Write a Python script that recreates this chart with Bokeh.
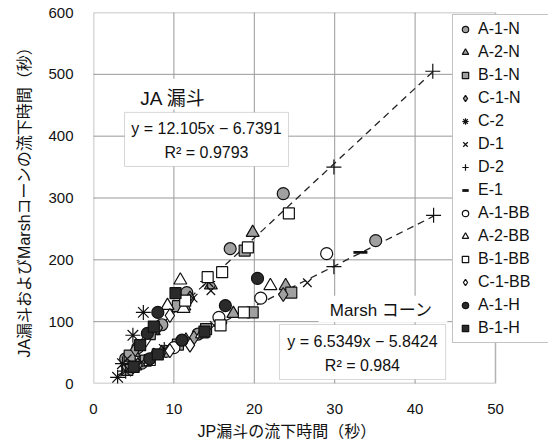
from bokeh.plotting import figure
from bokeh.models import Legend, LegendItem, Label, BoxAnnotation, FixedTicker, Range1d, Title
from bokeh.embed import file_html
from bokeh.resources import INLINE

# ---------------- data ----------------
series_names = ["A-1-N", "A-2-N", "B-1-N", "C-1-N", "C-2", "D-1", "D-2", "E-1",
                "A-1-BB", "A-2-BB", "B-1-BB", "C-1-BB", "A-1-H", "B-1-H"]

A1N_x = [23.6, 17.0, 11.6, 8.5, 5.5, 4.0, 35.1, 13.0, 9.0, 6.0, 4.5]
A1N_y = [307, 218, 147, 95, 58, 40, 231, 80, 52, 33, 24]
A2N_x = [19.8, 14.6, 11.3, 7.5, 5.0, 23.9, 17.4, 11.5, 7.5, 5.2]
A2N_y = [244, 159, 125, 85, 50, 158, 113, 70, 45, 28]
B1N_x = [18.8, 10.5, 7.0, 4.5, 24.6, 19.8, 14.0, 10.5, 6.5, 4.2]
B1N_y = [215, 125, 80, 45, 147, 115, 88, 63, 37, 22]
C1N_x = [12.0, 8.0, 5.2, 23.6, 16.0, 12.5, 8.5, 5.5]
C1N_y = [138, 90, 55, 144, 98, 74, 51, 30]
C2_x = [6.2, 4.9, 14.2, 3.6, 3.0, 4.0, 8.8]
C2_y = [115, 78, 165, 32, 10, 20, 55]
D1_x = [12.4, 14.6, 4.2, 26.6, 15.0, 6.0]
D1_y = [138, 150, 40, 163, 94, 35]
D2_x = [42.2, 29.9, 42.3, 29.9]
D2_y = [505, 350, 272, 189]
E1_x = [33.2]
E1_y = [212]
A1BB_x = [29.0, 20.8, 15.6, 10.0]
A1BB_y = [210, 138, 107, 58]
A2BB_x = [10.8, 9.2, 11.2, 22.0, 13.5]
A2BB_y = [167, 126, 121, 158, 80]
B1BB_x = [24.3, 19.2, 16.0, 11.4, 14.2, 15.8, 18.7, 7.0]
B1BB_y = [275, 220, 180, 134, 172, 94, 115, 38]
C1BB_x = [9.5, 6.5, 12.0, 9.5]
C1BB_y = [110, 70, 62, 53]
A1H_x = [8.0, 6.7, 20.4, 16.4, 11.0, 7.0]
A1H_y = [115, 81, 170, 126, 70, 40]
B1H_x = [10.2, 7.5, 5.8, 13.8, 8.0, 5.0]
B1H_y = [146, 92, 62, 84, 47, 27]

x_ticks = [0, 10, 20, 30, 40, 50]
y_ticks = [0, 100, 200, 300, 400, 500, 600]

ja_fit = [12.105, -6.7391]      # slope, intercept
ja_fit_x = [3.3, 42.2]
marsh_fit = [6.5349, -5.8424]
marsh_fit_x = [3.0, 42.3]

# ---------------- styling ----------------
FONT = "Liberation Sans, Noto Sans CJK JP"
GRAY = "#a0a0a0"
DARK = "#2a2a2a"
WHITE = "#ffffff"

X_MAX = x_ticks[-1]
Y_MAX = y_ticks[-1]
# frame spans 93..548 px; the axis box (0..50) spans 93..495 px
x_view_max = X_MAX * (548 - 93) / (495 - 93)

p = figure(width=548, height=447, output_backend="svg", toolbar_location=None,
           x_range=Range1d(0, x_view_max), y_range=Range1d(0, Y_MAX),
           min_border_left=93, min_border_right=0, min_border_top=12, min_border_bottom=64)
p.background_fill_color = "white"
p.border_fill_color = "white"
p.outline_line_color = None

p.xaxis.ticker = FixedTicker(ticks=x_ticks)
p.yaxis.ticker = FixedTicker(ticks=y_ticks)
for ax in (p.xaxis[0], p.yaxis[0]):
    ax.axis_line_color = None
    ax.major_tick_line_color = None
    ax.minor_tick_line_color = None
    ax.major_label_text_font = FONT
    ax.major_label_text_font_size = "15px"
    ax.major_label_text_color = "#111"
    ax.axis_label_text_font = FONT
    ax.axis_label_text_font_size = "16px"
    ax.axis_label_text_font_style = "normal"
    ax.axis_label_text_color = "#111"
    ax.major_label_standoff = 14
    ax.axis_label_standoff = 12
p.yaxis.axis_label = "JA漏斗およびMarshコーンの流下時間（秒）"

p.add_layout(Title(text="JP漏斗の流下時間（秒）", align="left", offset=104,
                   text_font=FONT, text_font_size="16px", text_font_style="normal",
                   text_color="#111", standoff=9), "below")

p.xgrid.grid_line_color = None
p.ygrid.grid_line_color = None

# manual grid lines limited to the axis box
gx = x_ticks[1:-1]
p.segment(x0=gx, y0=[0] * len(gx), x1=gx, y1=[Y_MAX] * len(gx),
          line_color="#999999", line_width=1, level="underlay")
gy = y_ticks[1:-1]
p.segment(x0=[0] * len(gy), y0=gy, x1=[X_MAX] * len(gy), y1=gy,
          line_color="#999999", line_width=1, level="underlay")

# white background behind the two titles
p.add_layout(BoxAnnotation(left=28.0, right=44.0, bottom=99, top=142,
                           fill_color="white", fill_alpha=1.0, line_color=None))
p.add_layout(BoxAnnotation(left=6.2, right=14.8, bottom=443, top=493,
                           fill_color="white", fill_alpha=1.0, line_color=None))

# regression lines
ja_fit_y = [ja_fit[0] * x + ja_fit[1] for x in ja_fit_x]
marsh_fit_y = [marsh_fit[0] * x + marsh_fit[1] for x in marsh_fit_x]
p.line(ja_fit_x, ja_fit_y, line_color="#222", line_width=1.3, line_dash="7 5")
p.line(marsh_fit_x, marsh_fit_y, line_color="#222", line_width=1.3, line_dash="7 5")

spec = [
    ("A-1-N", "circle", GRAY, A1N_x, A1N_y, 12),
    ("A-2-N", "triangle", GRAY, A2N_x, A2N_y, 13),
    ("B-1-N", "square", GRAY, B1N_x, B1N_y, 11),
    ("C-1-N", "diamond", GRAY, C1N_x, C1N_y, 14),
    ("C-2", "asterisk", None, C2_x, C2_y, 15),
    ("D-1", "x", None, D1_x, D1_y, 12),
    ("D-2", "cross", None, D2_x, D2_y, 15),
    ("E-1", "dash", None, E1_x, E1_y, 14),
    ("A-1-BB", "circle", WHITE, A1BB_x, A1BB_y, 12),
    ("A-2-BB", "triangle", WHITE, A2BB_x, A2BB_y, 13),
    ("B-1-BB", "square", WHITE, B1BB_x, B1BB_y, 11),
    ("C-1-BB", "diamond", WHITE, C1BB_x, C1BB_y, 14),
    ("A-1-H", "circle", DARK, A1H_x, A1H_y, 12),
    ("B-1-H", "square", DARK, B1H_x, B1H_y, 11),
]

items = []
for name, marker, fill, xs, ys, size in spec:
    lw = 2.8 if marker == "dash" else 1.2
    r = p.scatter(xs, ys, marker=marker, size=size, line_color="#111", line_width=lw,
                  fill_color=fill if fill else None)
    items.append(LegendItem(label=name, renderers=[r]))

# frame of the axis box
p.add_layout(BoxAnnotation(left=0, right=X_MAX, bottom=0, top=Y_MAX,
                           fill_alpha=0, line_color="black", line_width=1.5))

legend = Legend(items=items, location=(359, 40), orientation="vertical",
                label_text_font=FONT, label_text_font_size="16px", label_text_color="#111",
                glyph_height=20, glyph_width=16, label_height=20, label_width=72, spacing=3,
                padding=4, margin=0, label_standoff=5,
                border_line_color="#888", border_line_width=1,
                background_fill_color="white", background_fill_alpha=1.0)
p.add_layout(legend, "center")

# annotation boxes
p.add_layout(BoxAnnotation(left=3.86, right=24.25, bottom=351, top=438.5,
                           fill_color="white", fill_alpha=1.0, line_color="#777", line_width=1))
p.add_layout(BoxAnnotation(left=23.13, right=43.8, bottom=6.5, top=95.5,
                           fill_color="white", fill_alpha=1.0, line_color="#777", line_width=1))

def lab(x, y, text, size):
    p.add_layout(Label(x=x, y=y, text=text, text_font=FONT, text_font_size=size,
                       text_align="center", text_baseline="middle", text_color="#111"))

lab(9.9, 461, "JA 漏斗", "19px")
lab(14.05, 412, "y = 12.105x − 6.7391", "16px")
lab(14.05, 374, "R² = 0.9793", "16px")
lab(35.8, 118, "Marsh コーン", "17px")
lab(33.45, 68, "y = 6.5349x − 5.8424", "16px")
lab(33.45, 29, "R² = 0.984", "16px")

open("out.html", "w").write(file_html(p, INLINE))
